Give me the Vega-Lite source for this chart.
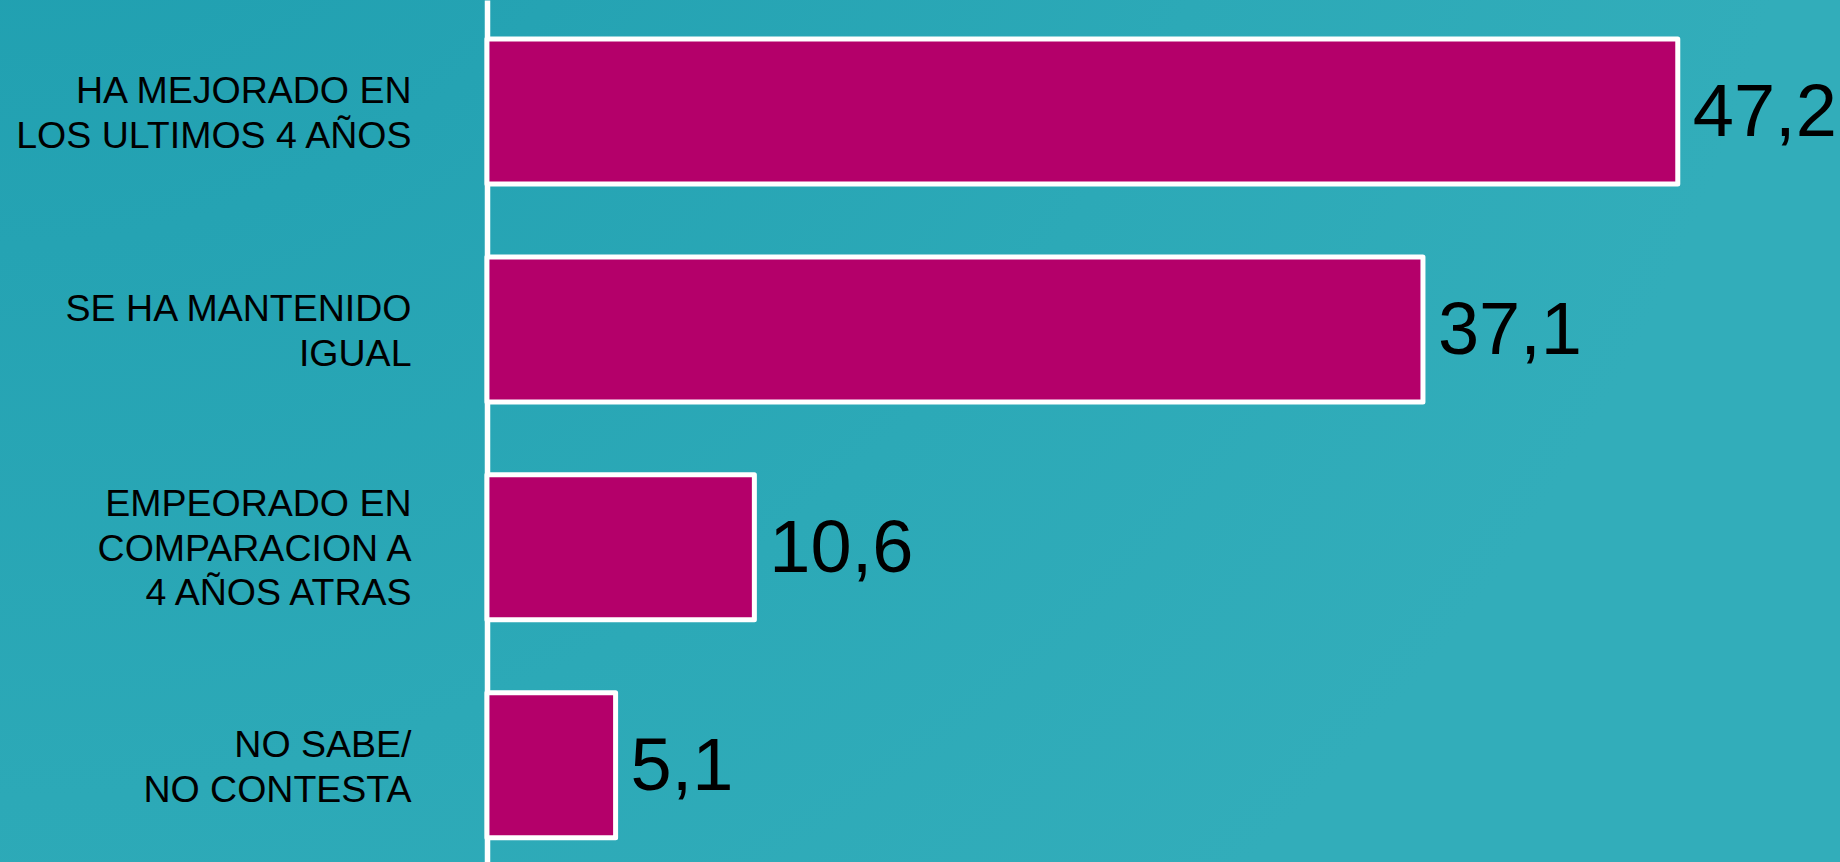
{
  "$schema": "https://vega.github.io/schema/vega-lite/v6.json",
  "width": 1840,
  "height": 862,
  "autosize": "none",
  "padding": 0,
  "background": "#2BA8B6",
  "config": {
    "view": {
      "stroke": null,
      "fill": {
        "gradient": "radial",
        "x1": 0, "y1": 0, "r1": 0,
        "x2": 0, "y2": 0, "r2": 1,
        "stops": [
          {"offset": 0, "color": "#1A9CAD"},
          {"offset": 0.4, "color": "#25A3B3"},
          {"offset": 0.7, "color": "#2CA9B7"},
          {"offset": 1, "color": "#32ADBA"}
        ]
      }
    },
    "locale": {
      "number": {"decimal": ",", "thousands": ".", "grouping": [3], "currency": ["", " €"]}
    }
  },
  "data": {
    "values": [
      {"categoria": "HA MEJORADO EN|LOS ULTIMOS 4 AÑOS", "valor": 47.2},
      {"categoria": "SE HA MANTENIDO|IGUAL", "valor": 37.1},
      {"categoria": "EMPEORADO EN|COMPARACION A|4 AÑOS ATRAS", "valor": 10.6},
      {"categoria": "NO SABE/|NO CONTESTA", "valor": 5.1}
    ]
  },
  "encoding": {
    "y": {
      "field": "categoria",
      "type": "nominal",
      "sort": null,
      "scale": {"paddingInner": 0.3346, "paddingOuter": 0.1453, "align": 0.616},
      "axis": {
        "title": null,
        "orient": "left",
        "offset": -487,
        "domain": true,
        "domainColor": "#FFFFFF",
        "domainWidth": 5.5,
        "ticks": false,
        "grid": false,
        "labelExpr": "split(datum.label, '|')",
        "labelFont": "Liberation Sans",
        "labelFontSize": 37.5,
        "labelLineHeight": 44.5,
        "labelColor": "#000000",
        "labelAlign": "right",
        "labelBaseline": "middle",
        "labelPadding": 76,
        "labelLimit": 0,
        "labelOffset": {
          "condition": {"test": "length(split(datum.label, '|')) == 3", "value": -42},
          "value": -19
        }
      }
    },
    "x": {
      "field": "valor",
      "type": "quantitative",
      "scale": {"domain": [-19.3, 53.63], "nice": false},
      "axis": null
    }
  },
  "layer": [
    {
      "mark": {"type": "bar", "fill": "#B4006A", "stroke": "#FFFFFF", "strokeWidth": 5, "strokeJoin": "round"},
      "encoding": {"x2": {"datum": 0}}
    },
    {
      "mark": {"type": "text", "align": "left", "baseline": "alphabetic", "dx": 15, "dy": 25, "font": "Liberation Sans", "fontSize": 74, "color": "#000000"},
      "encoding": {"text": {"field": "valor", "type": "quantitative", "format": ".1f"}}
    }
  ]
}
